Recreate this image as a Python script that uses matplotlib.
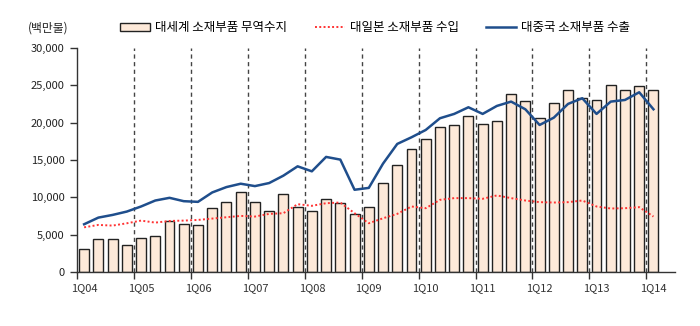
import numpy as np
import matplotlib
matplotlib.use('Agg')
import matplotlib.pyplot as plt
from matplotlib.ticker import FuncFormatter

plt.rcParams['font.family'] = ['Noto Sans CJK KR', 'DejaVu Sans']

# quarterly data, 1Q04 ~ 1Q14 (unit: million USD)
quarters = [f'{q}Q{y:02d}' for y in range(4, 15) for q in range(1, 5)][:41]

world_balance = [3000, 4350, 4350, 3550, 4580, 4800, 6820, 6420,
                 6290, 8530, 9340, 10640, 9340, 8220, 10420, 8670,
                 8170, 9740, 9200, 7770, 8670, 11940, 14350, 16430,
                 17770, 19370, 19640, 20930, 19820, 20220, 23880, 22900,
                 20580, 22590, 24370, 23340, 23030, 25040, 24370, 24900,
                 24370]
japan_import = [5970, 6290, 6200, 6510, 6870, 6600, 6820, 6870,
                6960, 7140, 7320, 7500, 7410, 7770, 7860, 9070,
                8850, 9200, 9290, 7860, 6510, 7180, 7770, 8760,
                8530, 9650, 9880, 9880, 9790, 10240, 9880, 9560,
                9340, 9290, 9340, 9560, 8760, 8490, 8530, 8670,
                7410]
china_export = [6380, 7270, 7630, 8080, 8760, 9560, 9920, 9470,
                9380, 10640, 11360, 11810, 11490, 11900, 12890, 14140,
                13470, 15400, 15040, 11000, 11250, 14500, 17140, 18030,
                19010, 20580, 21160, 22050, 21160, 22230, 22810, 21780,
                19680, 20660, 22500, 23260, 21160, 22810, 23030, 24060,
                21780]

x = np.arange(len(quarters))

fig = plt.figure(figsize=(7, 3.26), dpi=100)
ax = fig.add_axes([0.11, 0.166, 0.854, 0.687])

bars = ax.bar(x, world_balance, width=0.7, color='#fde9d9', edgecolor='#222222',
              linewidth=1.0, label='대세계 소재부품 무역수지', zorder=2)
l_jp, = ax.plot(x, japan_import, color='#ff3333', linestyle=(0, (1, 1.2)), linewidth=1.4,
                label='대일본 소재부품 수입', zorder=3)
l_cn, = ax.plot(x, china_export, color='#1f4e8c', linewidth=1.8,
                label='대중국 소재부품 수출', zorder=4)

# dashed year separators
for b in np.arange(3.5, 40, 4):
    ax.plot([b, b], [0, 30000], color='#444444', linestyle=(0, (3, 2.5)),
            linewidth=1.0, zorder=1)

ax.set_xlim(-0.5, 41.5)
ax.set_ylim(0, 30000)
ax.set_yticks(np.arange(0, 30001, 5000))
ax.yaxis.set_major_formatter(FuncFormatter(lambda v, p: f'{int(v):,}'))

ax.set_xticks(x[::4])
ax.set_xticklabels(quarters[::4])
ax.set_xticks(np.arange(-0.5, 41, 4), minor=True)
ax.tick_params(axis='x', which='major', length=0, pad=8, labelsize=8, colors='#333333')
ax.tick_params(axis='x', which='minor', length=5, width=1, color='#333333', direction='out')
ax.tick_params(axis='y', length=5, width=1, color='#333333', labelsize=8,
               labelcolor='#222222', pad=4)

for s in ['top', 'right']:
    ax.spines[s].set_visible(False)
for s in ['left', 'bottom']:
    ax.spines[s].set_color('#333333')
    ax.spines[s].set_linewidth(1.0)

fig.text(0.04, 0.915, '(백만불)', fontsize=8.5, color='#222222', va='center')

fig.legend(handles=[bars, l_jp, l_cn], loc='center', bbox_to_anchor=(0.536, 0.915),
           ncol=3, frameon=False, fontsize=9, handlelength=2.4, handleheight=0.6,
           columnspacing=2.2, handletextpad=0.4)

fig.savefig('out.png', dpi=100)
